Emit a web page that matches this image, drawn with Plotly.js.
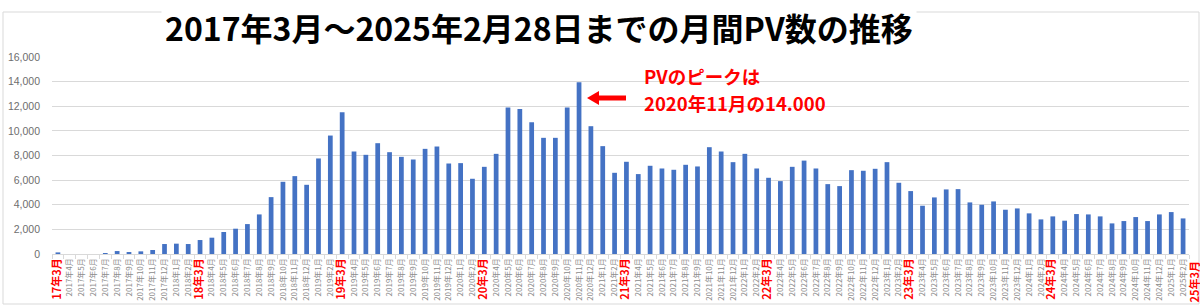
<!DOCTYPE html>
<html>
<head>
<meta charset="utf-8">
<script src="https://cdn.plot.ly/plotly-3.0.1.min.js"></script>
<style>html,body{margin:0;padding:0;background:#fff;}#chart{width:1200px;height:307px;}</style>
</head>
<body>
<div id="chart"></div>
<script>
// ---- data ----
const months = [
  "2017年3月","2017年4月","2017年5月","2017年6月","2017年7月","2017年8月","2017年9月","2017年10月","2017年11月","2017年12月",
  "2018年1月","2018年2月","2018年3月","2018年4月","2018年5月","2018年6月","2018年7月","2018年8月","2018年9月","2018年10月","2018年11月","2018年12月",
  "2019年1月","2019年2月","2019年3月","2019年4月","2019年5月","2019年6月","2019年7月","2019年8月","2019年9月","2019年10月","2019年11月","2019年12月",
  "2020年1月","2020年2月","2020年3月","2020年4月","2020年5月","2020年6月","2020年7月","2020年8月","2020年9月","2020年10月","2020年11月","2020年12月",
  "2021年1月","2021年2月","2021年3月","2021年4月","2021年5月","2021年6月","2021年7月","2021年8月","2021年9月","2021年10月","2021年11月","2021年12月",
  "2022年1月","2022年2月","2022年3月","2022年4月","2022年5月","2022年6月","2022年7月","2022年8月","2022年9月","2022年10月","2022年11月","2022年12月",
  "2023年1月","2023年2月","2023年3月","2023年4月","2023年5月","2023年6月","2023年7月","2023年8月","2023年9月","2023年10月","2023年11月","2023年12月",
  "2024年1月","2024年2月","2024年3月","2024年4月","2024年5月","2024年6月","2024年7月","2024年8月","2024年9月","2024年10月","2024年11月","2024年12月",
  "2025年1月","2025年2月"
];
const pageViews = [
  130, 0, 0, 0, 80, 240, 160, 215, 325, 810,
  840, 810, 1135, 1325, 1785, 2055, 2430, 3215, 4620, 5865, 6325, 5620,
  7760, 9620, 11515, 8325, 8055, 9000, 8270, 7890, 7675, 8540, 8730, 7350,
  7380, 6110, 7080, 8135, 11890, 11785, 10705, 9435, 9435, 11890, 13950, 10380,
  8760, 6595, 7490, 6490, 7165, 6945, 6840, 7245, 7110, 8675, 8325, 7460,
  8135, 6945, 6190, 5920, 7080, 7585, 6945, 5675, 5515, 6810, 6760, 6920,
  7460, 5785, 5110, 3920, 4595, 5245, 5270, 4190, 4000, 4270, 3595, 3700,
  3300, 2810, 3055, 2705, 3245, 3215, 3055, 2485, 2675, 3000, 2675, 3215,
  3405, 2890
];
// March labels shown in short red form
const marchLabels = {
  "2017年3月":"17年3月","2018年3月":"18年3月","2019年3月":"19年3月","2020年3月":"20年3月",
  "2021年3月":"21年3月","2022年3月":"22年3月","2023年3月":"23年3月","2024年3月":"24年3月"
};
const extraLabel = "25年3月";
const yTickVals = [0, 2000, 4000, 6000, 8000, 10000, 12000, 14000, 16000];
const titleText = "2017年3月～2025年2月28日までの月間PV数の推移";
const noteLine1 = "PVのピークは";
const noteLine2 = "2020年11月の14.000";

// ---- layout helpers ----
const W = 1200, H = 307, L = 52, R = 11, T = 57, B = 53;
const pw = W - L - R, ph = H - T - B;
const px = v => (v - L) / pw;
const py = v => (H - B - v) / ph;

const RED = "#ff0000";
const tickText = months.map(m => marchLabels[m]
  ? `<span style="color:${RED};font-size:11px;font-weight:bold">${marchLabels[m]}</span>`
  : m);

const trace = {
  type: "bar",
  x: months,
  y: pageViews,
  marker: { color: "#4472C4" },
  hoverinfo: "x+y"
};

const layout = {
  width: W, height: H,
  margin: { l: L, r: R, t: T, b: B, pad: 0 },
  paper_bgcolor: "#ffffff",
  plot_bgcolor: "#ffffff",
  showlegend: false,
  bargap: 0.6,
  font: { family: "Noto Sans CJK JP, sans-serif" },
  xaxis: {
    type: "category",
    tickmode: "array",
    tickvals: months,
    ticktext: tickText,
    tickangle: -90,
    tickfont: { family: "Noto Sans CJK JP, sans-serif", size: 8, color: "#8c8c8c" },
    showline: true, linecolor: "#d9d9d9", linewidth: 1,
    ticks: "outside", tickson: "boundaries", ticklen: 4, tickcolor: "#d9d9d9",
    showgrid: false, zeroline: false, fixedrange: true,
    automargin: false
  },
  yaxis: {
    range: [0, 16000],
    tickmode: "array",
    tickvals: yTickVals,
    tickformat: ",d",
    tickfont: { family: "Liberation Sans, Arial, sans-serif", size: 10.5, color: "#6e6e6e" },
    ticklabelstandoff: 11,
    showgrid: true, gridcolor: "#d9d9d9", gridwidth: 1,
    zeroline: false, showline: false, ticks: "", fixedrange: true,
    automargin: false
  },
  shapes: [
    { type: "rect", xref: "paper", yref: "paper", layer: "below",
      x0: px(3), x1: px(1199), y0: py(304), y1: py(12),
      line: { color: "#d9d9d9", width: 1 }, fillcolor: "rgba(0,0,0,0)" },
    { type: "rect", xref: "paper", yref: "paper",
      x0: px(596), x1: px(626), y0: py(100.5), y1: py(95.5),
      line: { width: 0 }, fillcolor: RED },
    { type: "path", xref: "paper", yref: "paper",
      path: `M ${px(587)},${py(98)} L ${px(599)},${py(91)} L ${px(599)},${py(105)} Z`,
      line: { width: 0 }, fillcolor: RED }
  ],
  annotations: [
    { text: `<b>${titleText}</b>`, xref: "paper", yref: "paper",
      x: px(539), y: py(27), xanchor: "center", yanchor: "middle",
      showarrow: false, bgcolor: "#ffffff", borderpad: 3,
      font: { family: "Noto Sans CJK JP, sans-serif", size: 32, color: "#000000" } },
    { text: `<b>${noteLine1}</b>`, xref: "paper", yref: "paper",
      x: px(642), y: py(75.5), xanchor: "left", yanchor: "middle", showarrow: false,
      font: { family: "Noto Sans CJK JP, sans-serif", size: 18.5, color: RED } },
    { text: `<b>${noteLine2}</b>`, xref: "paper", yref: "paper",
      x: px(642), y: py(102.5), xanchor: "left", yanchor: "middle", showarrow: false,
      font: { family: "Noto Sans CJK JP, sans-serif", size: 18.5, color: RED } },
    { text: `<b>${extraLabel}</b>`, xref: "paper", yref: "paper",
      x: px(1193), y: py(260), xanchor: "center", yanchor: "top", textangle: -90,
      showarrow: false,
      font: { family: "Noto Sans CJK JP, sans-serif", size: 11, color: RED } }
  ]
};

Plotly.newPlot("chart", [trace], layout, { displayModeBar: false, staticPlot: true });
</script>
</body>
</html>
